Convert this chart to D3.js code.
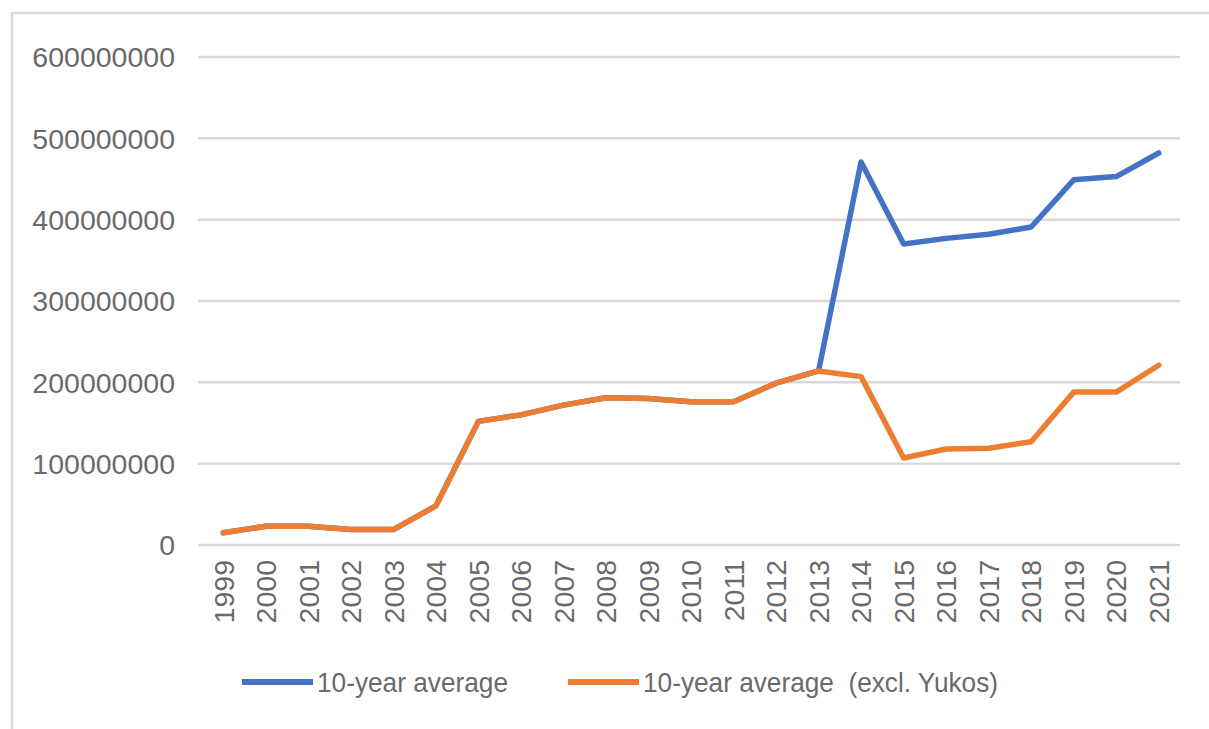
<!DOCTYPE html>
<html><head><meta charset="utf-8">
<script src="https://cdn.jsdelivr.net/npm/d3@7"></script>
<style>body{margin:0;background:#fff}svg{display:block}</style>
</head><body>
<svg id="chart" width="1209" height="729"></svg>
<script>
const years = ["1999","2000","2001","2002","2003","2004","2005","2006","2007","2008","2009","2010","2011","2012","2013","2014","2015","2016","2017","2018","2019","2020","2021"];
const avgAll = [15e6,23e6,23e6,19e6,19e6,48e6,152e6,160e6,172e6,181e6,180e6,176e6,176e6,199e6,214e6,471e6,370e6,377e6,382e6,391e6,449e6,453e6,482e6];
const avgExYukos = [15e6,23e6,23e6,19e6,19e6,48e6,152e6,160e6,172e6,181e6,180e6,176e6,176e6,199e6,214e6,207e6,107e6,118e6,119e6,127e6,188e6,188e6,221e6];
const yTicks = [0,100000000,200000000,300000000,400000000,500000000,600000000];
const seriesNames = ["10-year average","10-year average  (excl. Yukos)"];
const colors = ["#4472C4","#ED7D31"];

const svg = d3.select("#chart");
const font = "'Liberation Sans', Arial, sans-serif";
const textColor = "#6a6a6a";

// outer frame
svg.append("path").attr("d","M12,729 L12,13 L1209,13").attr("fill","none").attr("stroke","#d9d9d9").attr("stroke-width",2.5);

const x = d3.scaleBand().domain(years).range([202,1180]);
const y = d3.scaleLinear().domain([0,600000000]).range([545,57]);

// gridlines
svg.append("g").selectAll("line").data(yTicks).join("line")
  .attr("x1",198).attr("x2",1180)
  .attr("y1",d=>y(d)).attr("y2",d=>y(d))
  .attr("stroke","#d9d9d9").attr("stroke-width",2.5);

// y labels
const yAxis = d3.axisLeft(y).tickValues(yTicks).tickFormat(d=>String(d)).tickSize(0).tickPadding(0);
const gy = svg.append("g").attr("transform","translate(175,0)").call(yAxis);
gy.select(".domain").remove();
gy.selectAll("text").attr("font-family",font).attr("font-size",28.5).attr("fill",textColor).attr("dy","0.35em");

// x labels
const xAxis = d3.axisBottom(x).tickSize(0).tickPadding(0);
const gx = svg.append("g").attr("transform","translate(0,560)").call(xAxis);
gx.select(".domain").remove();
gx.selectAll("text")
  .attr("font-family",font).attr("font-size",28.5).attr("fill",textColor)
  .attr("transform","rotate(-90)")
  .attr("text-anchor","end").attr("x",0).attr("y",0).attr("dy","0.36em");

// lines
const line = d3.line().x((d,i)=>x(years[i])+x.bandwidth()/2).y(d=>y(d));
[avgAll, avgExYukos].forEach((s,i)=>{
  svg.append("path").datum(s).attr("d",line).attr("fill","none")
    .attr("stroke",colors[i]).attr("stroke-width",5.5)
    .attr("stroke-linejoin","round").attr("stroke-linecap","round");
});

// legend
const legendX = [242,568];
const legendW = [191,355];
seriesNames.forEach((n,i)=>{
  const g = svg.append("g");
  g.append("line").attr("x1",legendX[i]).attr("x2",legendX[i]+71).attr("y1",682).attr("y2",682)
    .attr("stroke",colors[i]).attr("stroke-width",6);
  g.append("text").attr("x",legendX[i]+75).attr("y",682).attr("dy","0.35em")
    .attr("font-family",font).attr("font-size",28).attr("fill",textColor)
    .attr("textLength",legendW[i]).attr("lengthAdjust","spacingAndGlyphs")
    .style("white-space","pre").text(n);
});
</script>
</body></html>
